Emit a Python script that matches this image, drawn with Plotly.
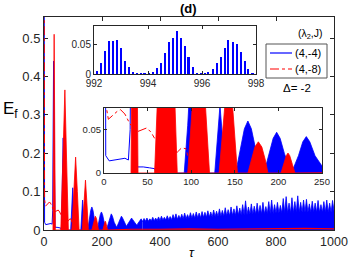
import plotly.graph_objects as go

# ---------------- data ----------------
# series (4,-4)  (blue, solid)
blue_early_tau = [0, 2, 6, 12, 18, 24, 28, 30, 33, 36, 38, 45, 52, 58, 60]
blue_early_E = [1.0, 0.02, 0.014, 0.015, 0.016, 0.017, 0.015, 0.05, 0.44, 0.05, 0.007, 0.007, 0.006, 0.005, 0.0]

blue_hump_tau = [60, 63, 66, 69, 72, 92, 96, 99, 102, 105, 127, 130, 133, 136, 139,
                 151, 156, 161, 165, 169, 174, 180,
                 184, 189, 194, 198, 202, 207, 214,
                 217, 223, 228, 232, 236, 242, 250,
                 252, 258, 263, 267, 271, 277, 284,
                 286, 293, 298, 302, 306, 312, 319,
                 321, 327, 331, 335, 340]
blue_hump_E = [0, 0.12, 0.24, 0.12, 0, 0, 0.055, 0.11, 0.055, 0, 0, 0.04, 0.078, 0.04, 0,
               0, 0.027, 0.051, 0.06, 0.051, 0.027, 0,
               0.002, 0.022, 0.040, 0.047, 0.040, 0.022, 0.004,
               0.005, 0.020, 0.036, 0.042, 0.036, 0.020, 0.008,
               0.009, 0.020, 0.031, 0.036, 0.031, 0.020, 0.010,
               0.012, 0.020, 0.027, 0.031, 0.027, 0.020, 0.013,
               0.014, 0.022, 0.027, 0.029, 0.022]

band_tau = [340, 345, 350, 355, 360, 365, 370, 375, 380, 385, 390, 395, 400, 405, 410, 415,
            420, 425, 430, 435, 440, 445, 450, 455, 460, 465, 470, 475, 480, 485, 490, 495,
            500, 505, 510, 515, 520, 525, 530, 535, 540, 545, 550, 555, 560, 565, 570, 575,
            580, 585, 590, 595, 600, 605, 610, 615, 620, 625, 630, 635, 640, 645, 650, 655,
            660, 665, 670, 675, 680, 685, 690, 695, 700, 705, 710, 715, 720, 725, 730, 735,
            740, 745, 750, 755, 760, 765, 770, 775, 780, 785, 790, 795, 800, 805, 810, 815,
            820, 825, 830, 835, 840, 845, 850, 855, 860, 865, 870, 875, 880, 885, 890, 895,
            900, 905, 910, 915, 920, 925, 930, 935, 940, 945, 950, 955, 960, 965, 970, 975,
            980, 985, 990, 995, 1000]
band_E = [0.022, 0.030, 0.023, 0.031, 0.023, 0.029, 0.024, 0.033, 0.024, 0.031, 0.025, 0.034,
          0.025, 0.036, 0.026, 0.033, 0.026, 0.037, 0.027, 0.035, 0.027, 0.040, 0.028, 0.042,
          0.028, 0.038, 0.029, 0.041, 0.029, 0.044, 0.030, 0.040, 0.030, 0.045, 0.031, 0.043,
          0.031, 0.047, 0.032, 0.044, 0.032, 0.048, 0.033, 0.046, 0.033, 0.050, 0.034, 0.047,
          0.034, 0.052, 0.035, 0.049, 0.035, 0.055, 0.036, 0.051, 0.036, 0.058, 0.037, 0.053,
          0.037, 0.060, 0.038, 0.055, 0.038, 0.063, 0.039, 0.057, 0.039, 0.066, 0.040, 0.076,
          0.040, 0.060, 0.041, 0.068, 0.041, 0.062, 0.041, 0.070, 0.042, 0.064, 0.042, 0.072,
          0.042, 0.061, 0.043, 0.074, 0.043, 0.078, 0.043, 0.066, 0.044, 0.072, 0.044, 0.064,
          0.044, 0.082, 0.045, 0.087, 0.045, 0.070, 0.045, 0.084, 0.045, 0.074, 0.046, 0.089,
          0.046, 0.072, 0.046, 0.078, 0.046, 0.080, 0.046, 0.068, 0.046, 0.075, 0.046, 0.070,
          0.046, 0.077, 0.046, 0.066, 0.046, 0.074, 0.046, 0.078, 0.046, 0.070, 0.046, 0.077,
          0.050]

# series (4,-8)  (red, dash-dot)
red_smooth_tau = [0, 2, 5, 10, 15, 19, 24, 28, 31, None, 39, 44, 49, 54, 58, None, 80, 84, 89, 94, 96]
red_smooth_E = [1.0, 0.08, 0.062, 0.066, 0.071, 0.073, 0.068, 0.06, 0.055, None,
                0.048, 0.05, 0.052, 0.047, 0.04, None, 0.025, 0.024, 0.029, 0.028, 0.02]

red_hump_tau = [31, 35, 39, 58, 65, 72, 78, 84, 96, 103, 109, 115, 121, 132, 138, 143, 148, 153,
                165, 169, 173, 177, 181, 185, 188, 203, 206, 209, 211, 213, 216, 219]
red_hump_E = [0, 0.51, 0, 0, 0.18, 0.365, 0.18, 0, 0, 0.1, 0.19, 0.1, 0, 0, 0.07, 0.13, 0.07, 0,
              0, 0.015, 0.030, 0.036, 0.030, 0.015, 0, 0, 0.010, 0.020, 0.023, 0.020, 0.010, 0]

red_tail_tau = [219, 300, 400, 500, 600, 700, 800, 900, 1000]
red_tail_E = [0.0, 0.002, 0.002, 0.003, 0.002, 0.003, 0.003, 0.004, 0.003]

# inset: late-time window
late_tau = [992.10, 992.25, 992.40, 992.54, 992.69, 992.84, 992.99, 993.13, 993.28, 993.43,
            993.58, 993.73, 993.87, 994.02, 994.17, 994.32, 994.47, 994.62, 994.76, 994.91,
            995.06, 995.21, 995.36, 995.50, 995.65, 995.80, 995.95, 996.10, 996.24, 996.39,
            996.54, 996.69, 996.84, 996.98, 997.13, 997.28, 997.43, 997.58, 997.72, 997.87]
late_E = [0.005, 0.019, 0.039, 0.055, 0.055, 0.057, 0.044, 0.022, 0.011, 0.004,
          0.002, 0.001, 0.001, 0.001, 0.003, 0.010, 0.018, 0.035, 0.053, 0.060,
          0.072, 0.060, 0.047, 0.028, 0.011, 0.002, 0.001, 0.001, 0.004, 0.008,
          0.018, 0.029, 0.043, 0.056, 0.053, 0.050, 0.036, 0.021, 0.009, 0.002]

main_xticks = [0, 200, 400, 600, 800, 1000]
main_yticks = [0, 0.1, 0.2, 0.3, 0.4, 0.5]
main_yticklabels = ['0', '0.1', '0.2', '0.3', '0.4', '0.5']
in1_xticks = [992, 994, 996, 998]
in_yticks = [0, 0.05]
in_yticklabels = ['0', '0.05']
in2_xticks = [0, 50, 100, 150, 200, 250]
legend_labels = ['(4,-4)', '(4,-8)']

BLUE = '#0000FF'
RED = '#FF0000'
AX = '#262626'
FONT = 'Liberation Sans, Arial, Helvetica, sans-serif'

# plot-area geometry (pixels) used to place paper-referenced decorations
L, T, W, H = 44, 17, 290, 213


def px(xp):
    return (xp - L) / W


def py(yp):
    return (T + H - yp) / H


fig = go.Figure()


def add_series(xa, ya):
    fig.add_trace(go.Scatter(x=blue_early_tau, y=blue_early_E, mode='lines',
                             line=dict(color=BLUE, width=1), name=legend_labels[0],
                             showlegend=False, xaxis=xa, yaxis=ya, hoverinfo='skip'))
    fig.add_trace(go.Scatter(x=blue_hump_tau, y=blue_hump_E, mode='lines', fill='tozeroy',
                             fillcolor=BLUE, line=dict(color=BLUE, width=0.8),
                             showlegend=False, xaxis=xa, yaxis=ya, hoverinfo='skip'))
    fig.add_trace(go.Scatter(x=band_tau, y=band_E, mode='lines', fill='tozeroy',
                             fillcolor=BLUE, line=dict(color=BLUE, width=0.8),
                             showlegend=False, xaxis=xa, yaxis=ya, hoverinfo='skip'))
    fig.add_trace(go.Scatter(x=red_smooth_tau, y=red_smooth_E, mode='lines',
                             line=dict(color=RED, width=1, dash='dashdot'), name=legend_labels[1],
                             showlegend=False, xaxis=xa, yaxis=ya, hoverinfo='skip'))
    fig.add_trace(go.Scatter(x=red_hump_tau, y=red_hump_E, mode='lines', fill='tozeroy',
                             fillcolor=RED, line=dict(color=RED, width=0.8),
                             showlegend=False, xaxis=xa, yaxis=ya, hoverinfo='skip'))
    fig.add_trace(go.Scatter(x=red_tail_tau, y=red_tail_E, mode='lines',
                             line=dict(color=RED, width=1.2),
                             showlegend=False, xaxis=xa, yaxis=ya, hoverinfo='skip'))


add_series('x', 'y')
add_series('x3', 'y3')

fig.add_trace(go.Bar(x=late_tau, y=late_E, width=0.075, marker=dict(color=BLUE, line=dict(width=0)),
                     showlegend=False, xaxis='x2', yaxis='y2', hoverinfo='skip'))

axis_common = dict(showline=True, linecolor=AX, linewidth=1, mirror='allticks', ticks='inside',
                   tickcolor=AX, showgrid=False, zeroline=False, color=AX, automargin=False)

fig.update_layout(
    width=349, height=262,
    margin=dict(l=L, r=349 - L - W, t=T, b=262 - T - H, autoexpand=False),
    paper_bgcolor='white', plot_bgcolor='white',
    font=dict(family=FONT, color=AX),
    bargap=0,
    showlegend=False,
    hovermode=False,
    xaxis=dict(domain=[0, 1], range=[0, 1000], tickvals=main_xticks, ticklen=4,
               tickfont=dict(size=12.5), layer='below traces', **axis_common),
    yaxis=dict(domain=[0, 1], range=[0, 0.555], tickvals=main_yticks, ticktext=main_yticklabels,
               ticklen=4, tickfont=dict(size=13), layer='below traces', **axis_common),
    xaxis2=dict(domain=[px(94), px(256)], anchor='y2', range=[992, 998], tickvals=in1_xticks,
                ticklen=3, tickfont=dict(size=10), **axis_common),
    yaxis2=dict(domain=[py(74), py(26)], anchor='x2', range=[0, 0.08], tickvals=in_yticks,
                ticktext=in_yticklabels, ticklen=3, tickfont=dict(size=10), **axis_common),
    xaxis3=dict(domain=[px(104), px(322)], anchor='y3', range=[0, 250], tickvals=in2_xticks,
                ticklen=3, tickfont=dict(size=9.5), **axis_common),
    yaxis3=dict(domain=[py(173), py(108)], anchor='x3', range=[0, 0.075], tickvals=in_yticks,
                ticktext=in_yticklabels, ticklen=3, tickfont=dict(size=9.5), **axis_common),
)

# legend box (drawn by hand to match the compact original)
fig.add_shape(type='rect', xref='paper', yref='paper', x0=px(266), x1=px(327), y0=py(78), y1=py(44),
              line=dict(color='#555555', width=1), fillcolor='white', layer='above')
fig.add_shape(type='line', xref='paper', yref='paper', x0=px(270), x1=px(292), y0=py(53), y1=py(53),
              line=dict(color=BLUE, width=1.2), layer='above')
fig.add_shape(type='line', xref='paper', yref='paper', x0=px(270), x1=px(292), y0=py(69), y1=py(69),
              line=dict(color=RED, width=1.2, dash='dashdot'), layer='above')
fig.add_annotation(text=legend_labels[0], xref='paper', yref='paper', x=px(292.5), y=py(53),
                   showarrow=False, font=dict(size=11, color='black'), xanchor='left', yanchor='middle')
fig.add_annotation(text=legend_labels[1], xref='paper', yref='paper', x=px(292.5), y=py(69),
                   showarrow=False, font=dict(size=11, color='black'), xanchor='left', yanchor='middle')

fig.add_annotation(text='<b>(d)</b>', xref='paper', yref='paper', x=px(188), y=py(8),
                   showarrow=False, font=dict(size=13, color='black'), xanchor='center', yanchor='middle')
fig.add_annotation(text='E<sub>f</sub>', xref='paper', yref='paper', x=px(10), y=py(110),
                   showarrow=False, font=dict(size=17, color='black'), xanchor='center', yanchor='middle')
fig.add_annotation(text='<i>τ</i>', xref='paper', yref='paper', x=px(192), y=py(252),
                   showarrow=False, font=dict(size=13, color='black'), xanchor='center', yanchor='middle')
fig.add_annotation(text='(λ<sub>2</sub>,J)', xref='paper', yref='paper', x=px(310), y=py(34),
                   showarrow=False, font=dict(size=10.5, color='black'), xanchor='center', yanchor='middle')
fig.add_annotation(text='Δ= -2', xref='paper', yref='paper', x=px(297), y=py(88),
                   showarrow=False, font=dict(size=11.5, color='black'), xanchor='center', yanchor='middle')

fig.write_html('out.html', config={'displayModeBar': False, 'staticPlot': True},
               post_script="document.body.style.margin='0';document.body.style.padding='0';"
                           "document.documentElement.style.overflow='hidden';")
